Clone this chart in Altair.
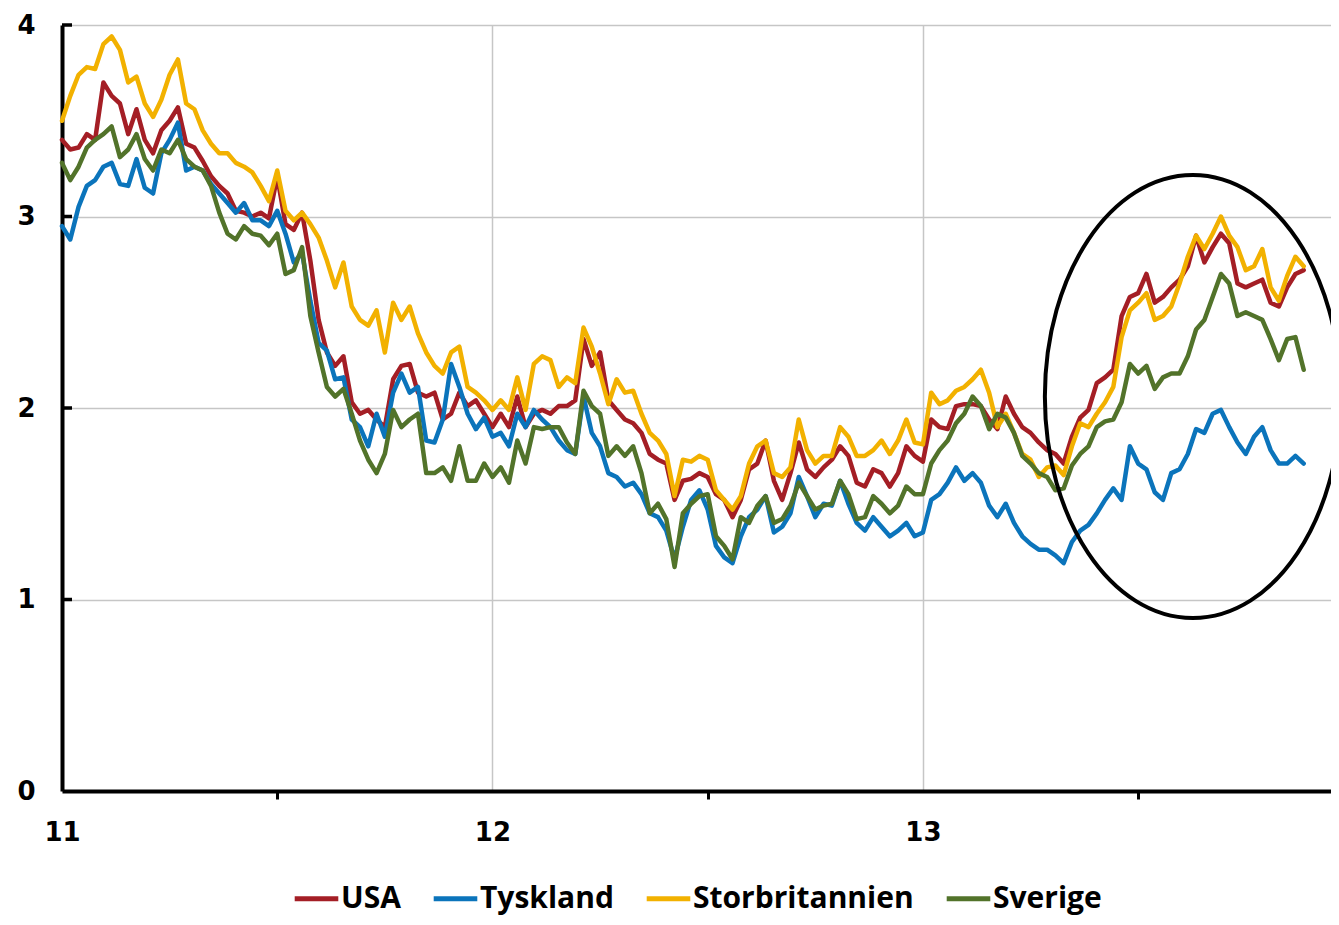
import altair as alt
import pandas as pd

# ---------------- data (weekly readings, 10-year government bond yields, %) ----------------
names = ["USA", "Tyskland", "Storbritannien", "Sverige"]
colors = ["#A41E25", "#0B74BB", "#F2B100", "#52732A"]

usa = [3.40, 3.35, 3.36, 3.43, 3.40, 3.70, 3.63, 3.59, 3.43, 3.56, 3.40, 3.33, 3.45, 3.50, 3.57, 3.38, 3.36, 3.29, 3.21, 3.16, 3.12, 3.03, 3.02, 3.00, 3.02,
       2.99, 3.21, 2.96, 2.93, 3.02, 2.77, 2.46, 2.29, 2.22, 2.27, 2.03, 1.97, 1.99, 1.94, 1.90, 2.15, 2.22, 2.23, 2.08, 2.06, 2.08, 1.94, 1.97, 2.08, 2.01,
       2.04, 1.97, 1.90, 1.97, 1.90, 2.06, 1.90, 1.97, 1.99, 1.97, 2.01, 2.01, 2.04, 2.36, 2.22, 2.29, 2.04, 1.99, 1.94, 1.92, 1.87, 1.76, 1.73, 1.71, 1.52, 1.62,
       1.63, 1.66, 1.64, 1.55, 1.52, 1.43, 1.52, 1.68, 1.71, 1.83, 1.62, 1.52, 1.66, 1.82, 1.68, 1.64, 1.69, 1.73, 1.80, 1.75, 1.61, 1.59, 1.68, 1.66, 1.59, 1.66, 1.80, 1.75,
       1.72, 1.94, 1.90, 1.89, 2.01, 2.02, 2.02, 2.01, 1.94, 1.89, 2.06, 1.97, 1.90, 1.87, 1.82, 1.78, 1.76, 1.71,
       1.85, 1.95, 1.99, 2.13, 2.16, 2.20, 2.48, 2.58, 2.60, 2.70, 2.55, 2.58, 2.63, 2.67, 2.74, 2.90, 2.76, 2.84, 2.91, 2.86, 2.65, 2.63, 2.65, 2.67, 2.55, 2.53, 2.63, 2.70, 2.72]

tyskland = [2.95, 2.88, 3.05, 3.16, 3.19, 3.26, 3.28, 3.17, 3.16, 3.30, 3.15, 3.12, 3.33, 3.40, 3.49, 3.24, 3.26, 3.24, 3.17, 3.12, 3.07, 3.02, 3.07, 2.98, 2.98,
            2.95, 3.03, 2.91, 2.76, 2.81, 2.56, 2.34, 2.30, 2.15, 2.16, 1.94, 1.90, 1.80, 1.97, 1.85, 2.08, 2.18, 2.08, 2.11, 1.83, 1.82, 1.94, 2.23, 2.11, 1.97,
            1.89, 1.95, 1.85, 1.87, 1.80, 1.97, 1.90, 1.99, 1.94, 1.90, 1.83, 1.78, 1.76, 2.06, 1.87, 1.80, 1.66, 1.64, 1.59, 1.61, 1.55, 1.45, 1.43, 1.36, 1.21, 1.38,
            1.52, 1.57, 1.47, 1.28, 1.22, 1.19, 1.33, 1.43, 1.47, 1.54, 1.35, 1.38, 1.45, 1.64, 1.54, 1.43, 1.50, 1.49, 1.62, 1.50, 1.40, 1.36, 1.43, 1.38, 1.33, 1.36, 1.40, 1.33,
            1.35, 1.52, 1.55, 1.61, 1.69, 1.62, 1.66, 1.61, 1.49, 1.43, 1.50, 1.40, 1.33, 1.29, 1.26, 1.26, 1.23, 1.19,
            1.30, 1.36, 1.39, 1.45, 1.52, 1.58, 1.52, 1.80, 1.71, 1.68, 1.56, 1.52, 1.66, 1.68, 1.76, 1.89, 1.87, 1.97, 1.99, 1.90, 1.82, 1.76, 1.85, 1.90, 1.78, 1.71, 1.71, 1.75, 1.71]

storbritannien = [3.50, 3.63, 3.74, 3.78, 3.77, 3.90, 3.94, 3.87, 3.70, 3.73, 3.59, 3.52, 3.61, 3.74, 3.82, 3.59, 3.56, 3.45, 3.38, 3.33, 3.33, 3.28, 3.26, 3.23, 3.16,
                  3.08, 3.24, 3.03, 2.98, 3.02, 2.96, 2.89, 2.77, 2.63, 2.76, 2.53, 2.46, 2.43, 2.51, 2.29, 2.55, 2.46, 2.53, 2.39, 2.29, 2.22, 2.18, 2.29, 2.32, 2.11,
                  2.08, 2.04, 1.99, 2.04, 1.99, 2.16, 1.99, 2.23, 2.27, 2.25, 2.11, 2.16, 2.13, 2.42, 2.32, 2.18, 2.02, 2.15, 2.08, 2.09, 1.97, 1.87, 1.83, 1.76, 1.54, 1.73,
                  1.72, 1.75, 1.73, 1.57, 1.52, 1.47, 1.54, 1.71, 1.80, 1.83, 1.66, 1.64, 1.69, 1.94, 1.78, 1.71, 1.75, 1.75, 1.90, 1.85, 1.75, 1.75, 1.78, 1.83, 1.76, 1.83, 1.94, 1.82,
                  1.81, 2.08, 2.02, 2.04, 2.09, 2.11, 2.15, 2.20, 2.08, 1.90, 1.97, 1.87, 1.76, 1.73, 1.64, 1.69, 1.70, 1.65,
                  1.80, 1.92, 1.90, 1.97, 2.03, 2.11, 2.37, 2.51, 2.55, 2.60, 2.46, 2.48, 2.53, 2.65, 2.79, 2.90, 2.83, 2.91, 3.00, 2.90, 2.84, 2.72, 2.74, 2.83, 2.63, 2.56, 2.69, 2.79, 2.74]

sverige = [3.28, 3.19, 3.26, 3.36, 3.40, 3.43, 3.47, 3.31, 3.35, 3.43, 3.30, 3.24, 3.35, 3.33, 3.40, 3.30, 3.26, 3.24, 3.16, 3.02, 2.91, 2.88, 2.95, 2.91, 2.90,
           2.85, 2.91, 2.70, 2.72, 2.84, 2.48, 2.29, 2.11, 2.06, 2.10, 1.97, 1.83, 1.73, 1.66, 1.76, 1.99, 1.90, 1.94, 1.97, 1.66, 1.66, 1.69, 1.62, 1.80, 1.62,
           1.62, 1.71, 1.64, 1.69, 1.61, 1.83, 1.71, 1.90, 1.89, 1.90, 1.90, 1.82, 1.76, 2.09, 2.01, 1.97, 1.75, 1.80, 1.75, 1.80, 1.66, 1.45, 1.50, 1.42, 1.17, 1.45,
           1.50, 1.54, 1.55, 1.33, 1.28, 1.21, 1.43, 1.40, 1.49, 1.54, 1.40, 1.42, 1.49, 1.61, 1.54, 1.47, 1.49, 1.50, 1.62, 1.55, 1.42, 1.43, 1.54, 1.50, 1.45, 1.49, 1.59, 1.55,
           1.55, 1.71, 1.78, 1.83, 1.92, 1.97, 2.06, 2.01, 1.89, 1.97, 1.95, 1.87, 1.75, 1.71, 1.66, 1.64, 1.57, 1.58,
           1.70, 1.76, 1.80, 1.90, 1.93, 1.94, 2.03, 2.23, 2.18, 2.22, 2.10, 2.16, 2.18, 2.18, 2.27, 2.41, 2.46, 2.58, 2.70, 2.65, 2.48, 2.50, 2.48, 2.46, 2.36, 2.25, 2.36, 2.37, 2.20]

start_year = 11          # axis label "11" = 2011; one reading per week
weeks_per_year = 52
x_ticks = [11, 11.5, 12, 12.5, 13, 13.5]
y_ticks = [0, 1, 2, 3, 4]
x_domain = [11, 13.948]

# ellipse annotation (centre in data units)
ellipse_cx = [13.627]
ellipse_cy = [2.06]

rows = []
for name, vals in zip(names, [usa, tyskland, storbritannien, sverige]):
    for i, v in enumerate(vals):
        rows.append({"serie": name, "x": start_year + i / weeks_per_year, "y": v, "ord": i})
df = pd.DataFrame(rows)

AX_FONT = "DejaVu Sans"
LEG_FONT = "Open Sans"

x_scale = alt.Scale(domain=x_domain, nice=False, zero=False)
y_scale = alt.Scale(domain=[0, 4], nice=False)

x_axis = alt.Axis(
    values=x_ticks,
    labelExpr="datum.value % 1 === 0 ? format(datum.value, 'd') : ''",
    title=None,
    labelFont=AX_FONT, labelFontSize=26, labelFontWeight="bold", labelColor="black",
    labelPadding=20, labelFlush=False,
    domainColor="black", domainWidth=4,
    tickColor="black", tickWidth=3, tickSize=8,
    tickOpacity={"condition": {"test": "datum.value % 1 !== 0", "value": 1}, "value": 0},
    gridColor="#C6C6C6", gridWidth=1.5,
    gridOpacity={"condition": {"test": "datum.value % 1 === 0", "value": 1}, "value": 0},
)

y_axis = alt.Axis(
    values=y_ticks, format="d", title=None,
    labelFont=AX_FONT, labelFontSize=26, labelFontWeight="bold", labelColor="black",
    labelPadding=27, ticks=False,
    domainColor="black", domainWidth=4,
    gridColor="#C6C6C6", gridWidth=1.5,
)

lines = alt.Chart(df).mark_line(strokeWidth=4.5, strokeJoin="round", strokeCap="round").encode(
    x=alt.X("x:Q", scale=x_scale, axis=x_axis),
    y=alt.Y("y:Q", scale=y_scale, axis=y_axis),
    color=alt.Color(
        "serie:N",
        scale=alt.Scale(domain=names, range=colors),
        sort=names,
        legend=alt.Legend(
            orient="none", legendX=226, legendY=849, direction="horizontal", title=None,
            symbolType="stroke", symbolSize=1900, symbolStrokeWidth=5, symbolOffset=4,
            labelFont=LEG_FONT, labelFontSize=30, labelFontWeight="bold", labelColor="black",
            labelLimit=400, labelOffset=0, columnPadding=22,
        ),
    ),
    order="ord:Q",
)

tick_df = pd.DataFrame({"v": y_ticks[1:]})
y_inner_ticks = alt.Chart(tick_df).mark_rule(color="black", strokeWidth=3.5).encode(
    y=alt.Y("v:Q", scale=y_scale, axis=y_axis),
    x=alt.value(0),
    x2=alt.value(10),
)

ell_df = pd.DataFrame({"cx": ellipse_cx, "cy": ellipse_cy})
ellipse_path = ("M 0.668 0 C 0.668 0.552 0.369 1 0 1 C -0.369 1 -0.668 0.552 -0.668 0 "
                "C -0.668 -0.552 -0.369 -1 0 -1 C 0.369 -1 0.668 -0.552 0.668 0 Z")
ellipse = alt.Chart(ell_df).mark_point(
    shape=ellipse_path, size=196249, filled=False, stroke="black", strokeWidth=4, opacity=1
).encode(
    x=alt.X("cx:Q", scale=x_scale, axis=x_axis),
    y=alt.Y("cy:Q", scale=y_scale, axis=y_axis),
)

chart = alt.layer(lines, y_inner_ticks, ellipse).properties(
    width=1269, height=766,
    padding={"left": 54, "top": 17, "right": 0, "bottom": 126},
    autosize=alt.AutoSizeParams(type="none"),
    background="white",
).configure_view(stroke="transparent")

chart.save("out.html", embed_options={"renderer": "svg", "actions": False})
